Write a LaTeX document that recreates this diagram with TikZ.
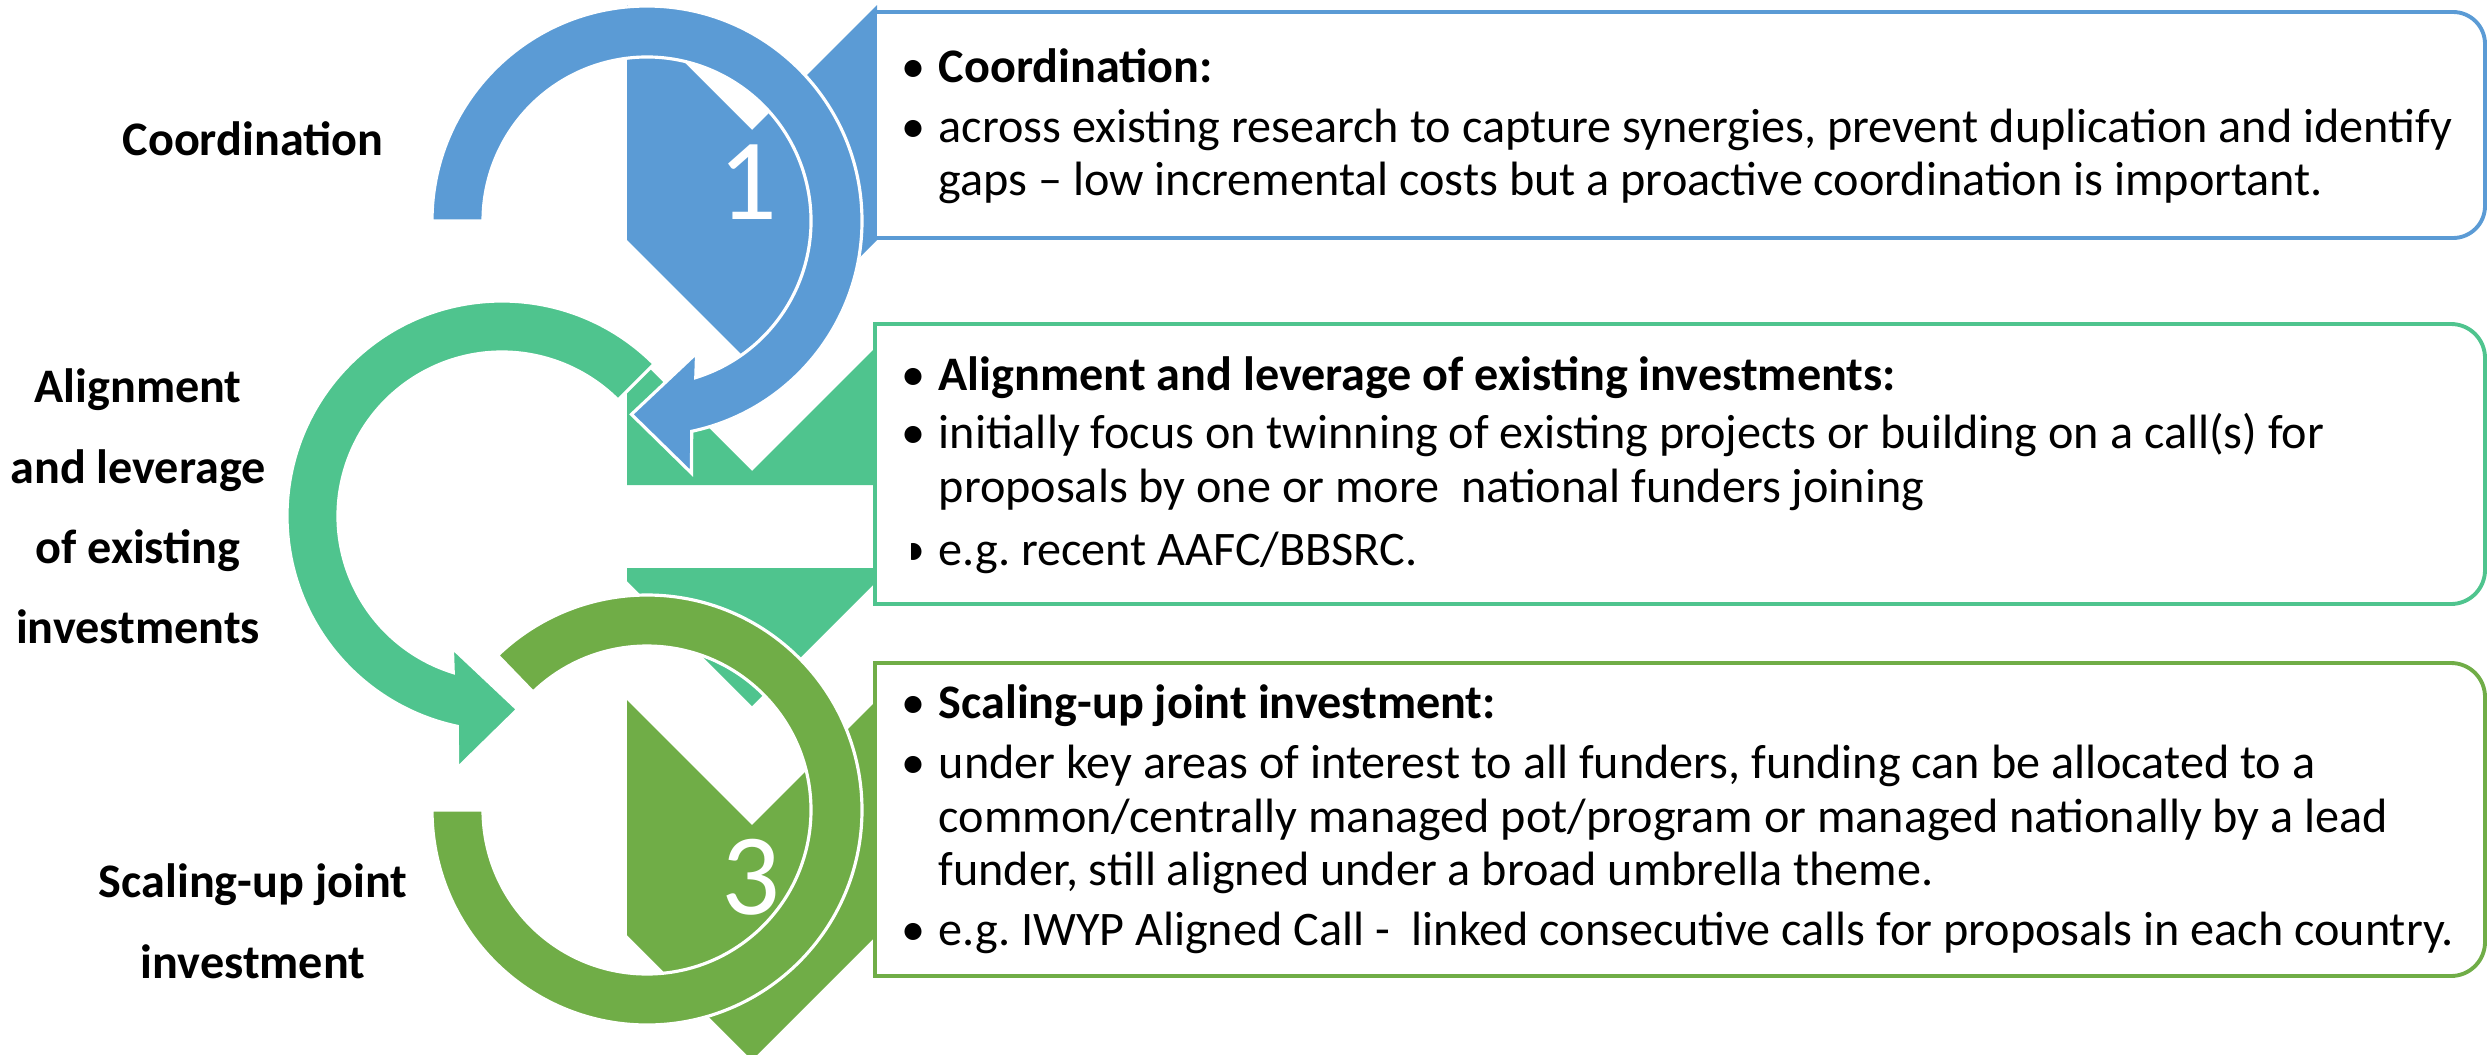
\documentclass[tikz,border=0pt]{standalone}
\usepackage{fontspec}
\setmainfont{Carlito}
\usepackage{tikz}

\definecolor{stepblue}{HTML}{5B9BD5}
\definecolor{stepmint}{HTML}{4FC48E}
\definecolor{stepgreen}{HTML}{70AD47}

\begin{document}
\begin{tikzpicture}[x=0.01cm, y=0.01cm,
  txt/.style={anchor=base west, inner sep=0, font=\fontsize{13.7}{16}\selectfont},
  dot/.style={anchor=base, inner sep=0, font=\fontsize{13.7}{16}\selectfont},
  lbl/.style={anchor=base, inner sep=0, font=\fontsize{13.7}{16}\selectfont\bfseries},
  num/.style={inner sep=0, text=white, font=\fontsize{33}{36}\selectfont},
  ring/.style={draw=white, line width=0.9pt},
  frame/.style={line width=1.1pt, fill=white}]

\useasboundingbox (0,0) rectangle (2488,-1054);

% chevrons behind the circle arrows
\fill[stepblue] (627,-5) -- (752,-130) -- (877,-5) -- (877,-240) -- (752,-365) -- (627,-240) -- cycle;
\fill[stepmint] (627,-346) -- (752,-471) -- (877,-346) -- (877,-485) -- (627,-485) -- cycle;
\fill[stepmint] (627,-568) -- (877,-568) -- (877,-581) -- (752,-706) -- (627,-581) -- cycle;
\fill[stepgreen] (627,-700) -- (752,-825) -- (877,-700) -- (877,-935) -- (752,-1060) -- (627,-935) -- cycle;

% circle arrows
\begin{scope}[shift={(647,-810)}]
\fill[stepgreen, ring] (180:164) -- (180:215) arc[start angle=180, end angle=494, radius=215]
  -- (494:164) arc[start angle=494, end angle=180, radius=164] -- cycle;
\end{scope}

\begin{scope}[shift={(502,-516)}]
\fill[stepmint, ring] (45:164) -- (45:215) arc[start angle=45, end angle=258, radius=215]
  -- (260:256) -- (274.6:194) -- (249.4:141) -- (252.7:164)
  arc[start angle=252.7, end angle=45, radius=164] -- cycle;
\end{scope}

\begin{scope}[shift={(647,-221)}]
\fill[stepblue, ring] (180:164) -- (180:215) arc[start angle=180, end angle=-78, radius=215]
  -- (-80:256) -- (-94.6:194) -- (-69.4:141) -- (-72.7:164)
  arc[start angle=-72.7, end angle=180, radius=164] -- cycle;
\end{scope}

\node[num] (n1) at (748,-182) {1};
\node[num] (n3) at (751,-877) {3};

% text boxes
\draw[frame, draw=stepblue] (875,-12) -- (2453,-12) arc[start angle=90, end angle=0, radius=32]
  -- (2485,-206) arc[start angle=0, end angle=-90, radius=32] -- (875,-238) -- cycle;
\draw[frame, draw=stepmint] (875,-324) -- (2451,-324) arc[start angle=90, end angle=0, radius=34]
  -- (2485,-570) arc[start angle=0, end angle=-90, radius=34] -- (875,-604) -- cycle;
\draw[frame, draw=stepgreen] (875,-663) -- (2451,-663) arc[start angle=90, end angle=0, radius=34]
  -- (2485,-942) arc[start angle=0, end angle=-90, radius=34] -- (875,-976) -- cycle;

% left labels
\node[lbl] (l1) at (253,-155) {Coordination};
\node[lbl] (l2a) at (138,-402) {Alignment};
\node[lbl] (l2b) at (138,-483) {and leverage};
\node[lbl] (l2c) at (138,-563) {of existing};
\node[lbl] (l2d) at (138,-643) {investments};
\node[lbl] (l3a) at (253,-897) {Scaling-up joint};
\node[lbl] (l3b) at (253,-978) {investment};

% box 1
\node[dot] (b1a) at (913,-82) {•};
\node[txt] (t1a) at (938,-82) {\textbf{Coordination:}};
\node[dot] (b1b) at (913,-142) {•};
\node[txt] (t1b) at (938,-142) {across existing research to capture synergies, prevent duplication and identify};
\node[txt] (t1c) at (938,-195) {gaps -- low incremental costs but a proactive coordination is important.};

% box 2
\node[dot] (b2a) at (913,-390) {•};
\node[txt] (t2a) at (938,-390) {\textbf{Alignment and leverage of existing investments:}};
\node[dot] (b2b) at (913,-448) {•};
\node[txt] (t2b) at (938,-448) {initially focus on twinning of existing projects or building on a call(s) for};
\node[txt] (t2c) at (938,-502) {proposals by one or more\ \ national funders joining};
\begin{scope}
\clip (911,-520) rectangle (935,-580);
\node[dot] (b2c) at (913,-565) {•};
\end{scope}
\node[txt] (t2d) at (938,-565) {e.g.\ recent AAFC/BBSRC.};

% box 3
\node[dot] (b3a) at (913,-718) {•};
\node[txt] (t3a) at (938,-718) {\textbf{Scaling-up joint investment:}};
\node[dot] (b3b) at (913,-778) {•};
\node[txt] (t3b) at (938,-778) {under key areas of interest to all funders, funding can be allocated to a};
\node[txt] (t3c) at (938,-832) {common/centrally managed pot/program or managed nationally by a lead};
\node[txt] (t3d) at (938,-885) {funder, still aligned under a broad umbrella theme.};
\node[dot] (b3c) at (913,-945) {•};
\node[txt] (t3e) at (938,-945) {e.g.\ IWYP Aligned Call -\ \ linked consecutive calls for proposals in each country.};

\end{tikzpicture}
\end{document}
